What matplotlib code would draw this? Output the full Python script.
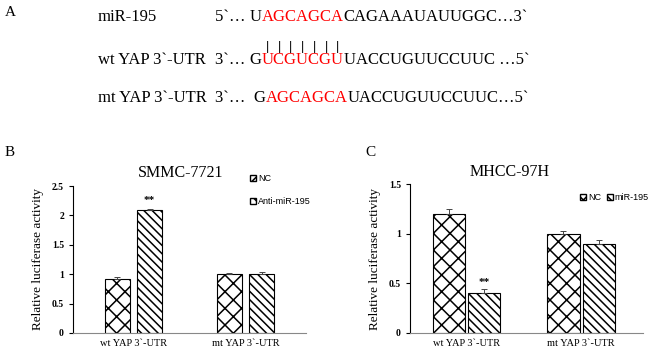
import numpy as np
import matplotlib.pyplot as plt
from matplotlib.patches import Patch

W, H = 650, 351
SERIF = 'Liberation Serif'
SANS = 'Liberation Sans'
RED = '#ff0000'
NC_HATCH = 'xx'
TR_HATCH = '\\\\\\\\'

plt.rcParams['hatch.linewidth'] = 1.1

# data
groups = ['wt YAP 3`-UTR', 'mt YAP 3`-UTR']
b_nc = [0.91, 1.0]
b_nc_err = [0.04, 0.02]
b_anti = [2.1, 1.0]
b_anti_err = [0.015, 0.03]
c_nc = [1.2, 1.0]
c_nc_err = [0.05, 0.03]
c_mir = [0.4, 0.9]
c_mir_err = [0.04, 0.04]

# sequence rows: label, then (text, colour) pieces
seq_labels = ['miR-195', 'wt YAP 3`-UTR', 'mt YAP 3`-UTR']
seq_parts = [
    [('5`… ', 'k'), ('U', 'k'), ('AGCAGCA', RED), ('CAGAAAUAUUGGC…3`', 'k')],
    [('3`… ', 'k'), ('G', 'k'), ('UCGUCGU', RED), ('UACCUGUUCCUUC …5`', 'k')],
    [('3`…  ', 'k'), ('G', 'k'), ('AGCAGCA', RED), ('UACCUGUUCCUUC…5`', 'k')],
]
seq_y = [17, 60, 98]


def fx(x):
    return x / W


def fy(y):
    return 1 - y / H


fig = plt.figure(figsize=(6.5, 3.51), dpi=100)
fig.canvas.draw()
rend = fig.canvas.get_renderer()

# ---- panel A ----
fig.text(fx(5), fy(12), 'A', fontsize=11, family=SERIF, va='center')
red_spans = []
for lab, parts, y in zip(seq_labels, seq_parts, seq_y):
    fig.text(fx(98), fy(y), lab, fontsize=12, family=SERIF, va='center')
    x = 215
    for txt, col in parts:
        t = fig.text(fx(x), fy(y), txt, fontsize=12, family=SERIF,
                     color=col, va='center')
        ext = t.get_window_extent(rend)
        if col == RED:
            red_spans.append((ext.x0, ext.x1))
        x = ext.x1
# pairing bars under the miR-195 seed
x0, x1 = red_spans[0]
step = (x1 - x0) / 7
for i in range(7):
    fig.text(fx(x0 + step * (i + 0.5)), fy(47), '|', fontsize=9,
             family=SANS, ha='center', va='center')


def style_axes(ax, ymax, ystep):
    ax.spines['top'].set_visible(False)
    ax.spines['right'].set_visible(False)
    ax.spines['bottom'].set_color('#888888')
    ax.set_ylim(0, ymax)
    ax.set_yticks(np.arange(0, ymax + 1e-9, ystep))
    ax.set_yticklabels(['%g' % v for v in np.arange(0, ymax + 1e-9, ystep)],
                       fontsize=7, fontweight='bold', family=SERIF)
    ax.tick_params(axis='y', direction='out', length=3, width=0.8)
    ax.tick_params(axis='x', length=0, pad=4)
    ax.set_xticks([0, 1])
    ax.set_xticklabels(groups, fontsize=7.5, family=SERIF)
    ax.set_ylabel('Relative luciferase activity', fontsize=9.5, family=SERIF,
                  labelpad=6)


def draw_bars(ax, nc, nc_err, tr, tr_err, width, off):
    pos = np.arange(len(groups))
    ax.bar(pos - off, nc, width, color='white', edgecolor='black',
           linewidth=0.8, hatch=NC_HATCH, zorder=2)
    ax.bar(pos + off, tr, width, color='white', edgecolor='black',
           linewidth=0.8, hatch=TR_HATCH, zorder=2)
    ax.errorbar(pos - off, nc, yerr=[np.zeros(len(nc)), nc_err], fmt='none',
                ecolor='#444444', elinewidth=0.7, capsize=2, capthick=0.7)
    ax.errorbar(pos + off, tr, yerr=[np.zeros(len(tr)), tr_err], fmt='none',
                ecolor='#444444', elinewidth=0.7, capsize=2, capthick=0.7)


def handles(lab2):
    return [Patch(facecolor='white', edgecolor='black', hatch='xx',
                  label='NC'),
            Patch(facecolor='white', edgecolor='black', hatch='\\\\\\',
                  label=lab2)]


# ---- panel B ----
axb = fig.add_axes([fx(73), fy(333), (306 - 73) / W, (333 - 186) / H])
draw_bars(axb, b_nc, b_nc_err, b_anti, b_anti_err, 0.223, 0.143)
axb.set_xlim(-0.54, 1.54)
style_axes(axb, 2.5, 0.5)
axb.text(0.143, b_anti[0] + b_anti_err[0] + 0.1, '**', ha='center',
         fontsize=8, family=SERIF, fontweight='bold')
fig.text(fx(5), fy(153), 'B', fontsize=11, family=SERIF, va='center')
fig.text(fx(181), fy(173), 'SMMC-7721', fontsize=11.5, family=SERIF,
         ha='center', va='center')
fig.legend(handles=handles('Anti-miR-195'), loc='upper left',
           bbox_to_anchor=(fx(250), fy(174)), frameon=False,
           prop={'family': SANS, 'size': 6.5}, handlelength=0.7,
           handleheight=0.7, handletextpad=0.2, labelspacing=1.6,
           borderpad=0, borderaxespad=0)

# ---- panel C ----
axc = fig.add_axes([fx(410), fy(333), (643 - 410) / W, (333 - 184) / H])
draw_bars(axc, c_nc, c_nc_err, c_mir, c_mir_err, 0.28, 0.153)
axc.set_xlim(-0.49, 1.54)
style_axes(axc, 1.5, 0.5)
axc.text(0.153, c_mir[0] + c_mir_err[0] + 0.04, '**', ha='center',
         fontsize=8, family=SERIF, fontweight='bold')
fig.text(fx(365), fy(153), 'C', fontsize=11, family=SERIF, va='center')
fig.text(fx(510), fy(172), 'MHCC-97H', fontsize=11.5, family=SERIF,
         ha='center', va='center')
fig.legend(handles=handles('miR-195'), loc='upper left',
           bbox_to_anchor=(fx(580), fy(193)), frameon=False, ncol=2,
           prop={'family': SANS, 'size': 6.5}, handlelength=0.7,
           handleheight=0.7, handletextpad=0.2, columnspacing=0.6,
           borderpad=0, borderaxespad=0)

fig.savefig('out.png', dpi=100)
